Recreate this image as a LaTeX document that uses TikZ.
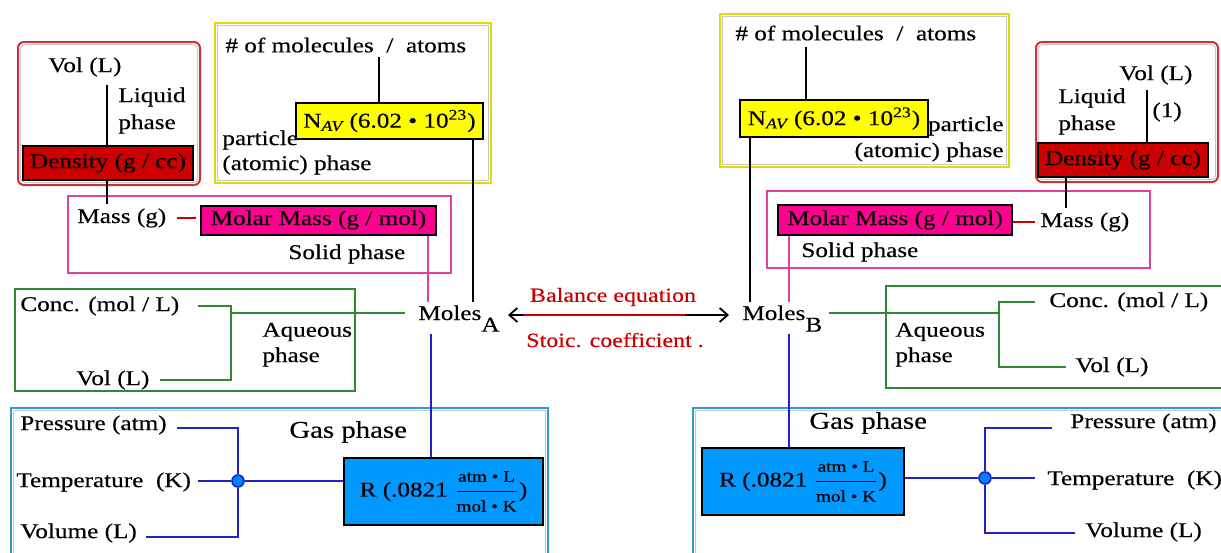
\documentclass[tikz,border=0pt]{standalone}
\usepackage{fontspec}
\setmainfont[FakeStretch=1.2,FakeBold=0.35]{Liberation Serif}
\usetikzlibrary{arrows.meta,calc}
\definecolor{frred}{HTML}{CC3333}
\definecolor{densred}{HTML}{CC0000}
\definecolor{fryel}{HTML}{DDDD00}
\definecolor{yfill}{HTML}{FFFF00}
\definecolor{frmag}{HTML}{E0409A}
\definecolor{mfill}{HTML}{FF0090}
\definecolor{frgrn}{HTML}{2E8B2E}
\definecolor{frblu}{HTML}{3399CC}
\definecolor{bfill}{HTML}{0099FF}
\definecolor{bline}{HTML}{2222C0}
\definecolor{jfill}{HTML}{0080FF}
\definecolor{txtred}{HTML}{CC0000}
\definecolor{innerg}{HTML}{C8C8C8}
\newcommand{\myfracpart}[1]{\mbox{\fontsize{8}{9}\selectfont #1}}
\newcommand{\myRtext}{R (.0821 ${\displaystyle\frac{\myfracpart{atm • L}}{\myfracpart{mol • K}}}$)}
\newcommand{\myNav}{N\textsubscript{\itshape AV} (6.02 • 10\textsuperscript{23})}
\begin{document}
\begin{tikzpicture}[x=0.5pt,y=-0.5pt,
  txt/.style={inner sep=0pt, anchor=west, font=\fontsize{10.5}{12}\selectfont},
  txte/.style={txt, anchor=east},
  gasfont/.style={font=\fontsize{12}{14}\selectfont},
  redtxt/.style={inner sep=0pt, text=txtred, font=\fontsize{10}{12}\selectfont},
  fbox/.style={draw=black, line width=1pt, inner sep=0pt, font=\fontsize{10.5}{12}\selectfont},
  frame/.style={line width=1pt},
  inner/.style={draw=innerg, line width=0.5pt},
  blk/.style={draw=black, line width=0.9pt},
  mag/.style={draw=frmag, line width=0.9pt},
  grn/.style={draw=frgrn, line width=0.9pt},
  blu/.style={draw=bline, line width=1pt},
  redl/.style={draw=densred, line width=0.9pt},
  junc/.style={circle, draw=bline, fill=jfill, line width=0.8pt, minimum size=6pt, inner sep=0pt}]
\useasboundingbox (0,0) rectangle (1221,552);
\clip (0,0) rectangle (1221,552);
\fill[white] (0,0) rectangle (1221,552);

% ---------- frames ----------
\draw[frame, frred, rounded corners=3pt] (18,42) rectangle (200,185);
\draw[inner, rounded corners=2pt] (20.5,44.5) rectangle (197.5,182.5);
\draw[frame, fryel] (215,23) rectangle (491,183);
\draw[inner] (217.5,25.5) rectangle (488.5,180.5);
\draw[frame, frmag] (68,196) rectangle (451,273);
\draw[frame, frgrn] (15,289) rectangle (355,391);
\draw[frame, frblu] (11,408) rectangle (548,580);
\draw[inner] (13.5,410.5) rectangle (545.5,580);

\draw[frame, fryel] (720,14) rectangle (1009,167);
\draw[inner] (722.5,16.5) rectangle (1006.5,164.5);
\draw[frame, frred, rounded corners=3pt] (1036,42) rectangle (1218,182);
\draw[inner, rounded corners=2pt] (1038.5,44.5) rectangle (1215.5,179.5);
\draw[frame, frmag] (767,191) rectangle (1150,268);
\draw[frame, frgrn] (886,286) rectangle (1260,388);
\draw[frame, frblu] (693,408) rectangle (1260,580);
\draw[inner] (695.5,410.5) rectangle (1260,580);

% ---------- left side ----------
\node[txt] (volLa) at (48,67) {Vol (L)};
\node[txt] (liqA) at (118,97) {Liquid};
\node[txt] (phA) at (118,124) {phase};
\node[fbox, fill=densred, minimum width=85pt, minimum height=17pt] (densA) at (108,163) {Density (g / cc)};
\node[txt] (massA) at (77,218) {Mass (g)};
\node[fbox, fill=mfill, minimum width=117.5pt, minimum height=14.5pt] (molA) at (318.5,220) {Molar Mass (g / mol)};
\node[txt] (solA) at (288,254) {Solid phase};
\node[txt] (molecA) at (225,45) {\# of molecules \ / \ atoms};
\node[fbox, fill=yfill, minimum width=93.5pt, minimum height=18pt] (navA) at (389.5,121) {\myNav};
\node[txt] (partA) at (222,140) {particle};
\node[txt] (atomA) at (222,165) {(atomic) phase};
\node[txt, anchor=base west] (molesA) at (418,320) {Moles\raisebox{-1.2ex}{A}};
\node[txt] (concA) at (20,306) {Conc. (mol / L)};
\node[txt] (volLb) at (76,380) {Vol (L)};
\node[txt] (aqA) at (262,332) {Aqueous};
\node[txt] (aqA2) at (262,357) {phase};
\node[txt] (pressA) at (20,425) {Pressure (atm)};
\node[txt] (tempA) at (16,482) {Temperature \ (K)};
\node[txt] (volumeA) at (20,533) {Volume (L)};
\node[txt, gasfont] (gasA) at (289,432) {Gas phase};
\node[fbox, fill=bfill, minimum width=99.5pt, minimum height=33.5pt] (RA) at (443.5,491.5) {\myRtext};
\node[junc] (jA) at (238,481) {};

\coordinate (vlA) at (107,85);
\draw[blk] (vlA) -- (vlA |- densA.north);
\draw[blk] (vlA |- densA.south) -- ($(vlA |- massA.north)+(0,-4)$);
\coordinate (vmA) at (379,57);
\draw[blk] (vmA) -- (vmA |- navA.north);
\path ($(navA.south east)+(-11,0)$) coordinate (nA);
\draw[blk] (nA) -- ($(nA |- molesA.north)+(0,-3)$);
\path ($(molA.south east)+(-9,0)$) coordinate (mA);
\draw[mag] (mA) -- ($(mA |- molesA.north)+(0,-3)$);
\draw[redl] ($(massA.east)+(10,0)$) -- ($(molA.west |- massA.east)+(-4,0)$);
\path ($(RA.north)+(-13,0)$) coordinate (rA);
\draw[blu] (rA) -- ($(rA |- molesA.south)+(0,2)$);
\coordinate (gA) at (231,313);
\draw[grn] ($(concA.east)+(18,0)$) -| (gA) |- ($(volLb.east)+(10,0)$);
\draw[grn] (gA) -- ($(gA -| molesA.west)+(-13,0)$);
\draw[blu] ($(pressA.east)+(10,3)$) -| (jA);
\draw[blu] (jA) |- ($(volumeA.east)+(9,4)$);
\draw[blu] ($(tempA.east |- jA)+(7,0)$) -- (jA) -- (RA.west |- jA);

% ---------- centre ----------
\node[txt, anchor=base west] (molesB) at (742,320) {Moles\raisebox{-1.2ex}{B}};
\coordinate (arL) at (508,315);
\coordinate (arR) at (729,315);
\draw[blk, {Straight Barb[length=4pt,width=7pt]}-{Straight Barb[length=4pt,width=7pt]}] (arL) -- (arR);
\draw[redl] ($(arL)!0.07!(arR)$) -- ($(arL)!0.80!(arR)$);
\node[redtxt] (bal) at (613,297) {Balance equation};
\node[redtxt] (sto) at (615,340) {Stoic. coefficient .};

% ---------- right side ----------
\node[txt] (molecB) at (735,33) {\# of molecules \ / \ atoms};
\node[fbox, fill=yfill, minimum width=94pt, minimum height=18.5pt] (navB) at (834,118.5) {\myNav};
\node[txte] (partB) at (1004,126) {particle};
\node[txte] (atomB) at (1004,152) {(atomic) phase};
\node[txt] (volRa) at (1119,75) {Vol (L)};
\node[txt] (oneB) at (1152,112) {(1)};
\node[txt] (liqB) at (1058,98) {Liquid};
\node[txt] (phB) at (1058,125) {phase};
\node[fbox, fill=densred, minimum width=85pt, minimum height=17pt] (densB) at (1123,160) {Density (g / cc)};
\node[fbox, fill=mfill, minimum width=117pt, minimum height=15pt] (molB) at (895,220) {Molar Mass (g / mol)};
\node[txt] (massB) at (1040,222) {Mass (g)};
\node[txt] (solB) at (801,252) {Solid phase};
\node[txt] (concB) at (1049,302) {Conc. (mol / L)};
\node[txt] (volRb) at (1075,367) {Vol (L)};
\node[txt] (aqB) at (895,332) {Aqueous};
\node[txt] (aqB2) at (895,357) {phase};
\node[txt, gasfont] (gasB) at (809,423) {Gas phase};
\node[fbox, fill=bfill, minimum width=101pt, minimum height=33.5pt] (RB) at (803,481.5) {\myRtext};
\node[junc] (jB) at (985,478) {};
\node[txt] (pressB) at (1070,423) {Pressure (atm)};
\node[txt] (tempB) at (1047,480) {Temperature \ (K)};
\node[txt] (volumeB) at (1085,532) {Volume (L)};

\coordinate (vmB) at (806,47);
\draw[blk] (vmB) -- (vmB |- navB.north);
\path ($(navB.south west)+(11,0)$) coordinate (nB);
\draw[blk] (nB) -- ($(nB |- molesB.north)+(0,-3)$);
\coordinate (vlB) at (1147,90);
\draw[blk] (vlB) -- (vlB |- densB.north);
\path ($(densB.south west)+(29,0)$) coordinate (dB);
\draw[blk] (dB) -- ($(dB |- massB.north)+(0,-4)$);
\draw[redl] (molB.east |- massB.west) -- ($(massB.west)+(-5,0)$);
\path ($(molB.south west)+(12,0)$) coordinate (mB);
\draw[mag] (mB) -- ($(mB |- molesB.north)+(0,-3)$);
\path ($(RB.north west)+(88,0)$) coordinate (rB);
\draw[blu] (rB) -- ($(rB |- molesB.south)+(0,2)$);
\coordinate (gB) at (999,313);
\draw[grn] ($(gB -| molesB.east)+(6,0)$) -- (gB);
\draw[grn] ($(concB.west)+(-14,0)$) -| (gB) |- ($(volRb.west)+(-9,0)$);
\draw[blu] ($(pressB.west)+(-18,5)$) -| (jB);
\draw[blu] (jB) |- ($(volumeB.west)+(-10,1)$);
\draw[blu] (RB.east |- jB) -- (jB) -- ($(tempB.west |- jB)+(-12,0)$);
\end{tikzpicture}
\end{document}
